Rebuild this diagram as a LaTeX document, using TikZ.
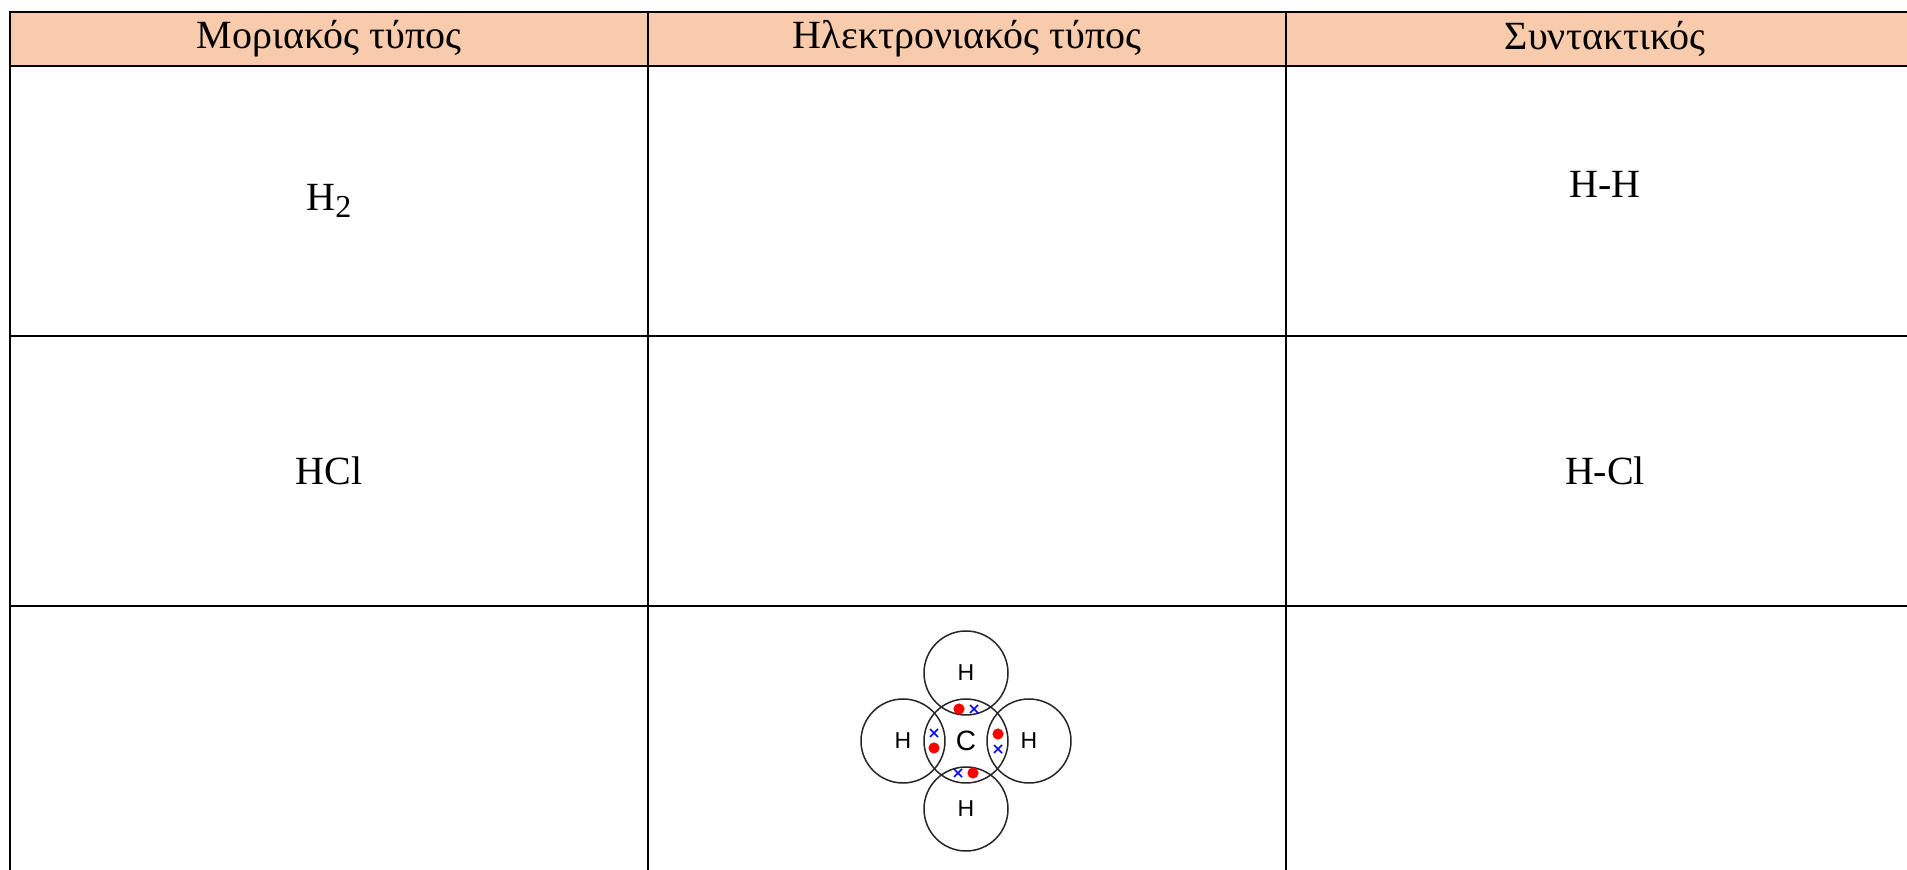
\documentclass[tikz,border=0pt]{standalone}
\usepackage{fontspec}
\setmainfont{Liberation Serif}
\setsansfont{Liberation Sans}
\usepackage{tikz}
\definecolor{headfill}{HTML}{F8CBAD}

\begin{document}
\begin{tikzpicture}[x=0.5pt, y=-0.5pt, font=\fontsize{20}{24}\selectfont,
  Grid/.style={line width=1pt, black, line cap=rect},
  Atom/.style={circle, draw=black!85, line width=0.75pt, minimum size=42pt, inner sep=0pt, font=\sffamily\fontsize{11.5}{13}\selectfont},
  Dot/.style={fill=red},
  Cross/.style={blue, line width=0.8pt}]

\useasboundingbox (0,0) rectangle (1907,870);
\clip (0,0) rectangle (1907,870);

\fill [headfill] (10,12) rectangle (1924,66);

\foreach \y in {12, 66, 336, 606} {
  \draw [Grid] (10,\y) -- (1924,\y);
}
\foreach \x in {10, 648, 1286, 1924} {
  \draw [Grid] (\x,12) -- (\x,876);
}

\foreach \x/\name/\txt in {329/moriakos/Μοριακός τύπος, 967/ilektr/Ηλεκτρονιακός τύπος, 1605/syntakt/Συντακτικός} {
  \node (\name) at (\x,39) {\txt};
}

\node (h2) at (329,201) {H\raisebox{-0.18em}{\fontsize{16}{18}\selectfont 2}};
\node (hh) at (1605,184) {H-H};
\node (hcl) at (329,471) {HCl};
\node (hclbond) at (1605,471) {H-Cl};

% methane
\node [Atom, font=\sffamily\fontsize{14}{16}\selectfont] (c) at (966,741) {C};
\node [Atom] (htop) at (966,673) {H};
\node [Atom] (hleft) at (903,741) {H};
\node [Atom] (hright) at (1029,741) {H};
\node [Atom] (hbottom) at (966,809) {H};

\foreach \a in {0, 90, 180, 270} {
  \begin{scope}[shift={(c.center)}, rotate=\a]
    \fill [Dot] (-7,-32) circle (2.8pt);
    \draw [Cross] (8,-32) +(-4,-4) -- +(4,4) +(-4,4) -- +(4,-4);
  \end{scope}
}
\end{tikzpicture}
\end{document}
